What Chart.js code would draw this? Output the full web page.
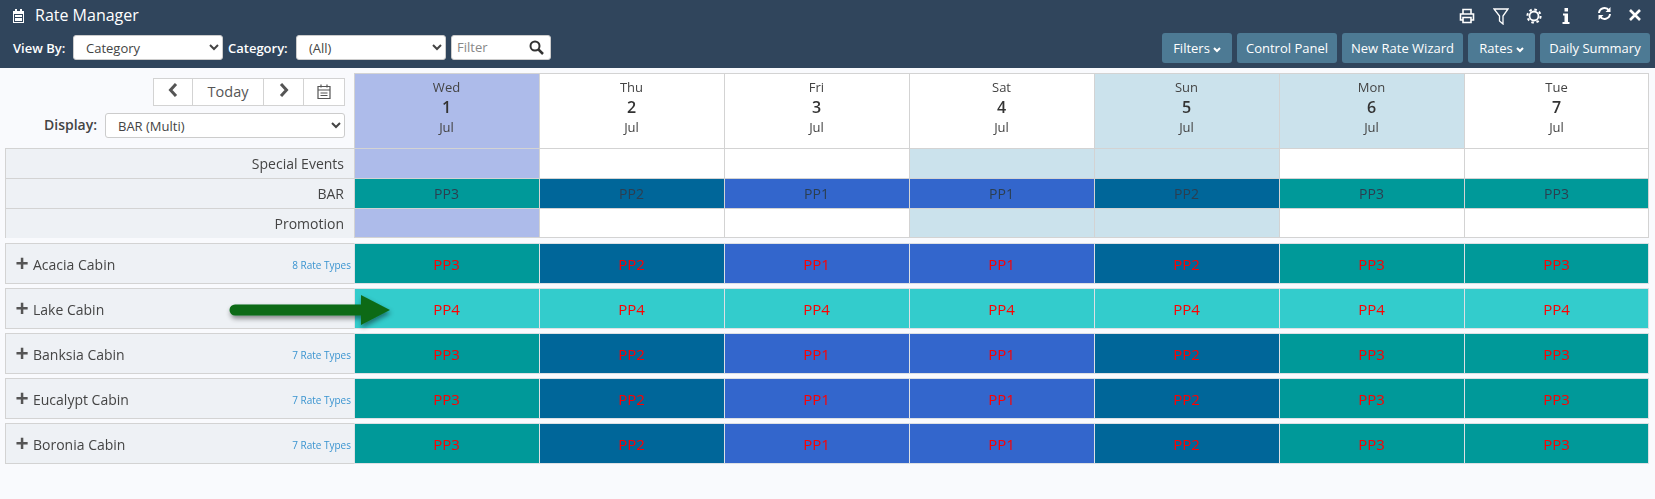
<!DOCTYPE html>
<html>
<head>
<meta charset="utf-8">
<title>Rate Manager</title>
<script src="https://cdn.jsdelivr.net/npm/chart.js@4/dist/chart.umd.min.js"></script>
<style>
  html, body { margin: 0; padding: 0; width: 1655px; height: 499px; overflow: hidden; background: #f9fafd; font-family: 'Open Sans', sans-serif; color: #444; }
  .abs { position: absolute; }
  #topbar { left: 0; top: 0; width: 1655px; height: 68px; background: #30455c; color: #fff; }
  #title { left: 35px; top: 3px; font-size: 16px; line-height: 24px; }
  .lbl { font-size: 13px; font-weight: 600; line-height: 20px; white-space: nowrap; }
  select { font-family: 'Open Sans', sans-serif; font-size: 13px; color: #444; background: #fff; border: 1px solid #ccc; border-radius: 3px; padding: 0 0 0 8px; box-sizing: border-box; }
  #filter { left: 451px; top: 35px; width: 100px; height: 25px; background: #fff; border: 1px solid #ccc; border-radius: 3px; box-sizing: border-box; color: #888; font-size: 13px; line-height: 23px; padding-left: 5px; }
  .btn { top: 33px; height: 30px; background: #4d7a94; border-radius: 3px; color: #fff; font-size: 13px; line-height: 30px; text-align: center; white-space: nowrap; }
  .btn svg { margin-left: 3px; }
  #nav { left: 153px; top: 78px; width: 190px; height: 26px; border: 1px solid #d3d3d3; background: #fff; box-sizing: content-box; }
  #nav div { position: absolute; top: 0; height: 26px; line-height: 26px; text-align: center; border-right: 1px solid #d3d3d3; box-sizing: border-box; font-size: 14.5px; color: #555; }
  .chartbox { position: absolute; left: 5px; width: 1644px; }
</style>
</head>
<body>
<div id="topbar" class="abs">
  <svg class="abs" style="left:12px;top:9px" width="13" height="14" viewBox="0 0 13 14"><path fill="#fff" d="M1 2h2V0h2v2h3V0h2v2h2v12H1z"/><path fill="#30455c" d="M2 5h9v8H2z"/><path fill="#fff" d="M3 6h7v2H3zM3 9h7v3H3z"/></svg>
  <div id="title" class="abs">Rate Manager</div>
  <div class="abs lbl" style="left:13px;top:38px">View By:</div>
  <select class="abs" style="left:73px;top:35px;width:150px;height:25px"><option>Category</option></select>
  <div class="abs lbl" style="left:228px;top:38px">Category:</div>
  <select class="abs" style="left:296px;top:35px;width:150px;height:25px"><option>(All)</option></select>
  <div id="filter" class="abs">Filter</div>
  <svg class="abs" style="left:529px;top:40px" width="15" height="15" viewBox="0 0 15 15"><circle cx="6" cy="6" r="4.5" fill="none" stroke="#333" stroke-width="2"/><path d="M9.5 9.5 14 14" stroke="#333" stroke-width="2.5"/></svg>

  <svg class="abs" style="left:1459px;top:8px" width="16" height="16" viewBox="0 0 16 16"><path fill="none" stroke="#fff" stroke-width="1.6" d="M4 6V1.5h8V6M4 12H1.5V6h13v6H12M4 9.5h8v5H4z"/></svg>
  <svg class="abs" style="left:1493px;top:8px" width="16" height="17" viewBox="0 0 16 17"><path fill="none" stroke="#fff" stroke-width="1.3" d="M1 1h14L10 8v8L6.500 13V8z"/></svg>
  <svg class="abs" style="left:1526px;top:8px" width="16" height="16" viewBox="0 0 16 16"><circle cx="8" cy="8" r="4.500" fill="none" stroke="#fff" stroke-width="1.800"/><circle cx="8" cy="8" r="6.600" fill="none" stroke="#fff" stroke-width="2" stroke-dasharray="2.600 2.600"/></svg>
  <svg class="abs" style="left:1562px;top:8px" width="8" height="16" viewBox="0 0 8 16"><path fill="#fff" d="M2.500 0h3.500v3.500H2.500zM1 5.500h5V14h1.500v2H.5v-2h2V7.500H1z"/></svg>
  <svg class="abs" style="left:1597px;top:6px" width="15" height="15" viewBox="0 0 15 15"><path fill="none" stroke="#fff" stroke-width="2" d="M2 7a5.500 5.500 0 0 1 10-2.500M13 8a5.500 5.500 0 0 1-10 2.500"/><path fill="#fff" d="M13.500 1v5h-5zM1.500 14V9h5z"/></svg>
  <svg class="abs" style="left:1629px;top:9px" width="12" height="12" viewBox="0 0 12 12"><path stroke="#fff" stroke-width="2.600" d="M1 1 11 11M11 1 1 11"/></svg>

  <div class="abs btn" style="left:1162px;width:70px">Filters<svg width="8" height="6" viewBox="0 0 8 6"><path fill="none" stroke="#fff" stroke-width="2" d="M1 1l3 3 3-3"/></svg></div>
  <div class="abs btn" style="left:1237px;width:100px">Control Panel</div>
  <div class="abs btn" style="left:1342px;width:121px">New Rate Wizard</div>
  <div class="abs btn" style="left:1468px;width:67px">Rates<svg width="8" height="6" viewBox="0 0 8 6"><path fill="none" stroke="#fff" stroke-width="2" d="M1 1l3 3 3-3"/></svg></div>
  <div class="abs btn" style="left:1540px;width:110px">Daily Summary</div>
</div>

<div id="nav" class="abs">
  <div style="left:0;width:39px"><svg width="10" height="14" viewBox="0 0 10 14"><path fill="none" stroke="#555" stroke-width="3" d="M8 1 2.500 7 8 13"/></svg></div>
  <div style="left:39px;width:71px">Today</div>
  <div style="left:110px;width:40px"><svg width="10" height="14" viewBox="0 0 10 14"><path fill="none" stroke="#555" stroke-width="3" d="M2 1l5.500 6L2 13"/></svg></div>
  <div style="left:150px;width:40px;border-right:0"><svg width="14" height="15" viewBox="0 0 14 15" style="margin-top:5px"><path fill="none" stroke="#555" stroke-width="1.200" d="M1 2.500h12v12H1zM1 6h12M4 .5v3M10 .5v3M3.500 9h7M3.500 11.500h7"/></svg></div>
</div>
<div class="abs lbl" style="left:44px;top:115px;font-size:14px;color:#444">Display:</div>
<select class="abs" style="left:105px;top:113px;width:240px;height:25px;"><option>BAR (Multi)</option></select>

<div class="chartbox" style="top:73px;height:75px"><canvas id="headerChart"></canvas></div>
<div class="chartbox" style="top:148px;height:90px"><canvas id="eventChart"></canvas></div>
<div class="chartbox" style="top:241px;height:225px"><canvas id="cabinChart"></canvas></div>

<svg class="abs" style="left:215px;top:280px" width="190" height="60" viewBox="215 280 190 60">
  <defs><filter id="sh" x="-10%" y="-30%" width="120%" height="180%"><feDropShadow dx="1" dy="3" stdDeviation="2.500" flood-color="#000" flood-opacity="0.45"/></filter></defs>
  <path filter="url(#sh)" fill="#0d6b18" d="M235 304.500H361V295L390 310 361 325V315.500H235a5.500 5.500 0 0 1 0-11z"/>
</svg>

<script>
const days = ['Wed', 'Thu', 'Fri', 'Sat', 'Sun', 'Mon', 'Tue'];
const dates = ['1', '2', '3', '4', '5', '6', '7'];
const months = ['Jul', 'Jul', 'Jul', 'Jul', 'Jul', 'Jul', 'Jul'];

const headerStates = ['today', '', '', '', 'weekend', 'weekend', ''];
const eventRows = ['Special Events', 'BAR', 'Promotion'];
const specialStates = ['today', '', '', 'weekend', 'weekend', '', ''];
const barPlans = ['PP3', 'PP2', 'PP1', 'PP1', 'PP2', 'PP3', 'PP3'];
const promoStates = ['today', '', '', 'weekend', 'weekend', '', ''];

const cabinRows = ['Acacia Cabin', 'Lake Cabin', 'Banksia Cabin', 'Eucalypt Cabin', 'Boronia Cabin'];
const rateTypes = ['8 Rate Types', '', '7 Rate Types', '7 Rate Types', '7 Rate Types'];
const acaciaPlans = ['PP3', 'PP2', 'PP1', 'PP1', 'PP2', 'PP3', 'PP3'];
const lakePlans = ['PP4', 'PP4', 'PP4', 'PP4', 'PP4', 'PP4', 'PP4'];
const banksiaPlans = ['PP3', 'PP2', 'PP1', 'PP1', 'PP2', 'PP3', 'PP3'];
const eucalyptPlans = ['PP3', 'PP2', 'PP1', 'PP1', 'PP2', 'PP3', 'PP3'];
const boroniaPlans = ['PP3', 'PP2', 'PP1', 'PP1', 'PP2', 'PP3', 'PP3'];

const fills = {
  '': '#ffffff',
  today: '#adbbea',
  weekend: '#cbe2ec',
  PP1: '#3366cc',
  PP2: '#006699',
  PP3: '#009999',
  PP4: '#33cccc'
};

Chart.defaults.font.family = "'Open Sans', sans-serif";

// paints the grey row headers behind the axis labels and the text on top of the cells
const gridPlugin = {
  id: 'gridPlugin',
  beforeDraw(chart, args, opts) {
    if (!opts.panel) return;
    const { ctx, chartArea, scales } = chart;
    const rowH = scales.y.getPixelForTick(1) - scales.y.getPixelForTick(0);
    const cellH = rowH * opts.cellPct;
    ctx.save();
    chart.data.labels.forEach((l, i) => {
      const y = scales.y.getPixelForTick(i) - cellH / 2;
      ctx.fillStyle = '#eef1f5';
      ctx.fillRect(0, y, chartArea.left, cellH);
      ctx.strokeStyle = '#d3d3d3';
      ctx.lineWidth = 1;
      ctx.strokeRect(0.5, Math.round(y) + 0.5, chartArea.left, Math.round(cellH) - (opts.cellPct < 1 ? 1 : 0));
    });
    ctx.restore();
  },
  afterDatasetsDraw(chart, args, opts) {
    const { ctx, scales } = chart;
    ctx.save();
    ctx.textAlign = 'center';
    ctx.textBaseline = 'middle';
    chart.data.datasets.forEach((ds, d) => {
      const x = scales.x.getPixelForValue(d + 0.5);
      ds.texts.forEach((t, r) => {
        if (!fills[t] || !t.startsWith('PP')) return;
        ctx.font = opts.cellFont;
        ctx.fillStyle = opts.cellColor;
        ctx.fillText(t, x, scales.y.getPixelForTick(r) + 2.5);
      });
    });
    if (opts.header) {
      const y = scales.y.getPixelForTick(0);
      days.forEach((name, d) => {
        const x = scales.x.getPixelForValue(d + 0.5);
        ctx.fillStyle = '#444';
        ctx.font = "13px 'Open Sans'";
        ctx.fillText(name, x, y - 22);
        ctx.fillStyle = '#333';
        ctx.font = "600 16px 'Open Sans'";
        ctx.fillText(dates[d], x, y - 2);
        ctx.fillStyle = '#444';
        ctx.font = "13px 'Open Sans'";
        ctx.fillText(months[d], x, y + 18);
      });
    }
    if (opts.rateTypes) {
      ctx.textAlign = 'right';
      rateTypes.forEach((t, r) => {
        ctx.fillStyle = '#3a94d0';
        ctx.font = "10px 'Open Sans'";
        ctx.fillText(t, scales.x.left - 3, scales.y.getPixelForTick(r) + 3);
      });
      ctx.textAlign = 'center';
      cabinRows.forEach((c, r) => {
        ctx.fillStyle = '#555';
        ctx.font = "700 23px 'Open Sans'";
        ctx.fillText('+', 17, scales.y.getPixelForTick(r) + 2);
      });
    }
    ctx.restore();
  }
};

function drawGrid(id, labels, rows, o) {
  const last = rows.length - 1;
  const datasets = days.map((name, d) => ({
    label: name,
    data: rows.map(() => 1),
    texts: rows.map(r => r[d]),
    backgroundColor: rows.map(r => fills[r[d]]),
    borderColor: o.lineColor,
    borderWidth: ctx => ({
      left: 1,
      top: 1,
      right: d === 6 ? 1 : 0,
      bottom: !o.header && (o.gapped || ctx.dataIndex === last) ? 1 : 0
    }),
    borderSkipped: false,
    inflateAmount: 0,
    categoryPercentage: o.cellPct,
    barPercentage: 1
  }));
  return new Chart(document.getElementById(id), {
    type: 'bar',
    data: { labels, datasets },
    plugins: [gridPlugin],
    options: {
      indexAxis: 'y',
      responsive: true,
      maintainAspectRatio: false,
      animation: false,
      events: [],
      layout: { autoPadding: false, padding: { left: o.labelInset, right: 0, top: 0, bottom: 0 } },
      plugins: {
        legend: { display: false },
        tooltip: { enabled: false },
        gridPlugin: {
          panel: o.panel,
          cellPct: o.cellPct,
          cellFont: o.cellFont,
          cellColor: o.cellColor,
          header: o.header,
          rateTypes: o.rateTypes
        }
      },
      scales: {
        x: { stacked: true, min: 0, max: 7, display: false },
        y: {
          stacked: true,
          grid: { display: false },
          border: { display: false },
          afterFit: s => {
            s.width = 349 - o.labelInset;
            s.paddingTop = 0;
            s.paddingBottom = 0;
          },
          ticks: {
            display: o.panel,
            color: '#444',
            // blank first line with a small line height nudges the label down a bit
            callback: function (v) { return ['', this.getLabelForValue(v)]; },
            font: { size: 14, lineHeight: '5px' },
            padding: 2,
            crossAlign: o.labelInset ? 'far' : 'near'
          }
        }
      }
    }
  });
}

drawGrid('headerChart', ['Date'], [headerStates], {
  lineColor: '#d3d3d3', cellPct: 1, labelInset: 0, panel: false, header: true
});
drawGrid('eventChart', eventRows, [specialStates, barPlans, promoStates], {
  lineColor: '#d3d3d3', cellPct: 1, labelInset: 0, panel: true,
  cellFont: "14px 'Open Sans'", cellColor: '#2c3e50'
});
drawGrid('cabinChart', cabinRows, [acaciaPlans, lakePlans, banksiaPlans, eucalyptPlans, boroniaPlans], {
  lineColor: '#dde0e4', cellPct: 41 / 45, labelInset: 28, panel: true, gapped: true, rateTypes: true,
  cellFont: "15px 'Open Sans'", cellColor: '#ff0000'
});
</script>
</body>
</html>
